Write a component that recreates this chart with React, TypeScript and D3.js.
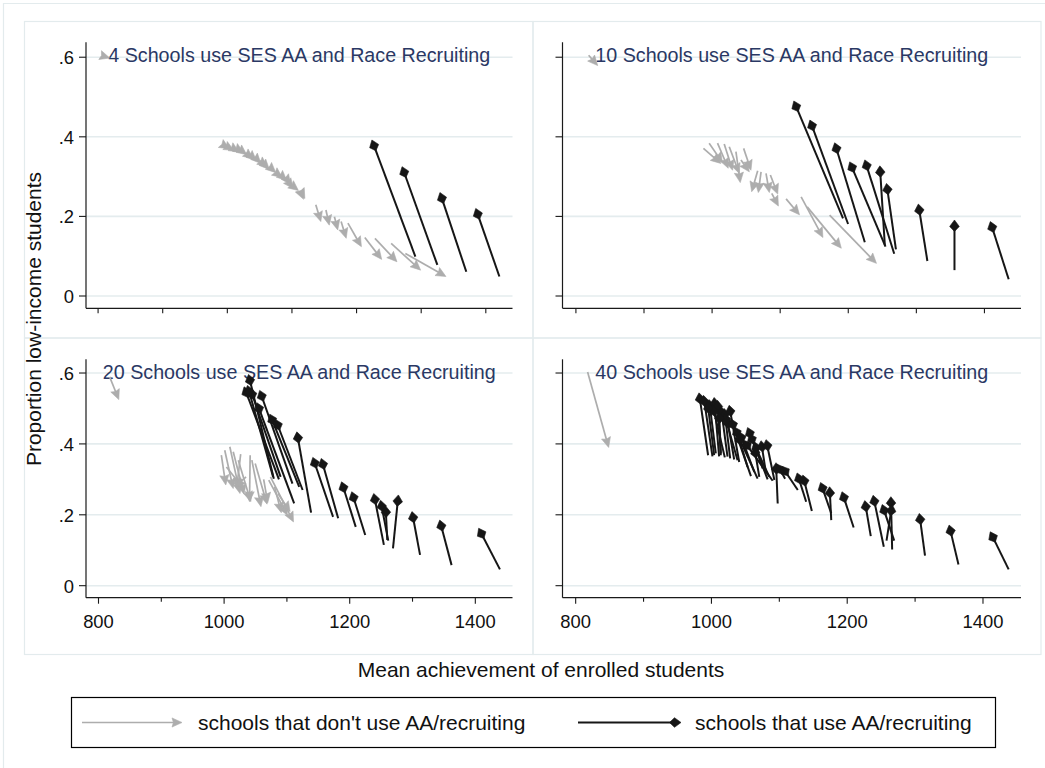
import React from 'react';
import * as d3 from 'd3';

// ---------- data ----------
const panelTitles = [
  '4 Schools use SES AA and Race Recruiting',
  '10 Schools use SES AA and Race Recruiting',
  '20 Schools use SES AA and Race Recruiting',
  '40 Schools use SES AA and Race Recruiting',
];
const xTickValues = [800, 900, 1000, 1100, 1200, 1300, 1400];
const xTickLabelValues = [800, 1000, 1200, 1400];
const yTickValues = [0, 0.2, 0.4, 0.6];
const yTickLabels = ['0', '.2', '.4', '.6'];
const xAxisTitle = 'Mean achievement of enrolled students';
const yAxisTitle = 'Proportion low-income students';
const legendLabels = ["schools that don't use AA/recruiting", 'schools that use AA/recruiting'];

// arrows: [x0, y0, x1, y1] — head at (x1, y1)
const p1Grey = [
  [808, 0.603, 818, 0.598],
  [995, 0.378, 1003, 0.37], [1000, 0.375, 1010, 0.366], [1008, 0.372, 1018, 0.362],
  [1015, 0.37, 1025, 0.36], [1022, 0.365, 1030, 0.355], [1028, 0.36, 1040, 0.345],
  [1035, 0.355, 1045, 0.34], [1042, 0.35, 1052, 0.333], [1050, 0.34, 1062, 0.325],
  [1055, 0.335, 1065, 0.318], [1065, 0.325, 1075, 0.31], [1075, 0.31, 1085, 0.298],
  [1082, 0.305, 1092, 0.29], [1090, 0.298, 1098, 0.28], [1095, 0.285, 1102, 0.27],
  [1100, 0.278, 1110, 0.265], [1112, 0.265, 1118, 0.243], [1115, 0.26, 1120, 0.245],
  [1136.9, 0.229, 1144.7, 0.187], [1152.6, 0.216, 1157.8, 0.178], [1165.7, 0.199, 1170.9, 0.166],
  [1176.1, 0.187, 1184, 0.145], [1186.6, 0.183, 1207.5, 0.124], [1212.7, 0.147, 1238.9, 0.092],
  [1228.4, 0.145, 1262.5, 0.086], [1253.5, 0.132, 1299.1, 0.065], [1275.5, 0.107, 1338.3, 0.049],
];
const p1Black = [
  [1291, 0.099, 1223.7, 0.392], [1325, 0.078, 1270.4, 0.325],
  [1369.8, 0.061, 1329, 0.26], [1421, 0.049, 1384.4, 0.22],
];
const p2Grey = [
  [818.7, 0.605, 832, 0.579],
  [987.3, 0.371, 1012.9, 0.333], [995.7, 0.384, 1015.3, 0.335], [1008, 0.384, 1023.7, 0.321],
  [1017.8, 0.382, 1030.1, 0.316], [1025.2, 0.375, 1039.9, 0.308], [1035, 0.363, 1041.4, 0.285],
  [1046.3, 0.371, 1057.1, 0.316], [1042.4, 0.342, 1054.7, 0.312], [1067, 0.315, 1058.1, 0.262],
  [1071.9, 0.312, 1067.9, 0.26], [1079.2, 0.308, 1084.1, 0.26], [1085.6, 0.304, 1096.4, 0.256],
  [1087.6, 0.258, 1097.4, 0.226], [1108.7, 0.244, 1128.4, 0.204], [1130.8, 0.249, 1162.8, 0.147],
  [1139.7, 0.224, 1189.8, 0.12], [1172.6, 0.203, 1241.4, 0.082],
];
const p2Black = [
  [1192.3, 0.195, 1120.0, 0.49], [1199.7, 0.181, 1143.6, 0.442], [1224.3, 0.135, 1180.0, 0.385],
  [1254.7, 0.124, 1202.1, 0.337], [1267.5, 0.106, 1224.3, 0.342], [1253.7, 0.128, 1246.4, 0.327],
  [1270.0, 0.117, 1256.2, 0.283], [1316.2, 0.088, 1302.9, 0.231], [1356.0, 0.065, 1356.0, 0.191],
  [1435.6, 0.042, 1408.6, 0.187],
];
const p3Grey = [
  [817.8, 0.589, 832.3, 0.525],
  [995.6, 0.368, 1002.7, 0.284], [1001, 0.382, 1014.5, 0.274], [1009.1, 0.392, 1025.3, 0.26],
  [1014.5, 0.378, 1031.8, 0.258], [1022.6, 0.354, 1042.5, 0.237], [1026.4, 0.371, 1019.9, 0.274],
  [1041.5, 0.368, 1040.4, 0.237], [1044.2, 0.354, 1058.7, 0.223], [1049.5, 0.345, 1068.4, 0.23],
  [1035, 0.307, 1017.2, 0.279], [1071.1, 0.298, 1100.8, 0.199], [1073.8, 0.307, 1110.5, 0.18],
  [1080.3, 0.279, 1091.1, 0.206], [1085.7, 0.26, 1105.1, 0.209], [1063, 0.3, 1069.5, 0.234],
  [1003.7, 0.335, 1030.7, 0.274],
];
const p3Black = [
  [1079.2, 0.302, 1038.8, 0.596], [1087.3, 0.3, 1031.8, 0.561], [1090, 0.307, 1041.5, 0.556],
  [1108.8, 0.288, 1056.6, 0.551], [1111.5, 0.232, 1052.2, 0.516], [1119.6, 0.279, 1072.7, 0.484],
  [1125, 0.27, 1081.9, 0.469], [1138.5, 0.206, 1115.8, 0.434], [1173.5, 0.194, 1141.2, 0.362],
  [1181.6, 0.19, 1154.7, 0.359], [1209.6, 0.166, 1187, 0.293], [1224.7, 0.143, 1203.2, 0.265],
  [1254.4, 0.115, 1238.2, 0.26], [1261.4, 0.127, 1249, 0.241], [1259.8, 0.129, 1257.1, 0.225],
  [1268.9, 0.105, 1277.5, 0.256], [1312, 0.087, 1299.1, 0.209], [1362.2, 0.058, 1343.3, 0.185],
  [1439.2, 0.046, 1405.3, 0.162], [1078.1, 0.307, 1037.1, 0.565],
];
const p4Grey = [
  [817.6, 0.603, 848.6, 0.39],
];
const p4Black = [
  [995.1, 0.368, 981.7, 0.544], [1001.5, 0.365, 988.2, 0.537], [1006.4, 0.373, 996.5, 0.525],
  [1011.3, 0.365, 1004, 0.531], [1013.8, 0.368, 1008.9, 0.523], [1019.7, 0.362, 1001.5, 0.509],
  [1023.7, 0.364, 1013.8, 0.506], [1027.6, 0.359, 1018.7, 0.5], [1040.9, 0.349, 1026.1, 0.509],
  [1033.5, 0.356, 1022.7, 0.476], [1058.2, 0.309, 1028.6, 0.471], [1068.0, 0.302, 1033.5, 0.448],
  [1063.1, 0.321, 1040.9, 0.434], [1082.8, 0.3, 1053.2, 0.446], [1085.3, 0.307, 1055.7, 0.429],
  [1090.2, 0.296, 1047.3, 0.41], [1075.4, 0.331, 1063.1, 0.406], [1080.4, 0.317, 1073.0, 0.409],
  [1092.7, 0.298, 1080.4, 0.412], [1053.2, 0.335, 1038.5, 0.429], [1038.5, 0.354, 1018.7, 0.486],
  [1013.8, 0.373, 1011.3, 0.49], [1004.0, 0.368, 994.1, 0.518], [1070.5, 0.307, 1063.1, 0.392],
  [1437.8, 0.046, 1410.7, 0.152], [1363.9, 0.06, 1350.1, 0.171], [1314.6, 0.085, 1306.2, 0.204],
  [1266.2, 0.102, 1264.3, 0.251], [1257.9, 0.127, 1266.2, 0.229], [1269.2, 0.127, 1251.5, 0.229],
  [1253.9, 0.11, 1238.1, 0.255], [1234.7, 0.14, 1225.8, 0.24], [1209.5, 0.164, 1192.3, 0.265],
  [1176.5, 0.185, 1174, 0.279], [1176.5, 0.204, 1160.7, 0.291], [1147.9, 0.211, 1134.6, 0.312],
  [1139.5, 0.237, 1126.2, 0.318], [1127.2, 0.27, 1103.5, 0.337], [1097.6, 0.232, 1095.1, 0.347],
  [1108.5, 0.302, 1096.6, 0.343],
];

const panelGrey = [p1Grey, p2Grey, p3Grey, p4Grey];
const panelBlack = [p1Black, p2Black, p3Black, p4Black];
const panelXDomains = [[781.3, 1441.3], [780.3, 1453.7], [780.1, 1459.2], [780.6, 1456]];
const panelYDomains = [[-0.0309, 0.6375], [-0.0309, 0.6375], [-0.0339, 0.6387], [-0.0339, 0.6387]];

// ---------- layout ----------
const W = 1045;
const H = 768;
const FONT = '"Liberation Sans", Arial, Helvetica, sans-serif';
const GREY = '#adadad';
const BLACK = '#161616';
const GRID = '#e4ecee';
const FRAME = '#e3ebed';
const TITLE_COLOR = '#2a3864';

const plotBoxes = [
  { left: 86, right: 512.5, top: 42.3, bottom: 308.3, yLabels: true, xLabels: false },
  { left: 562.5, right: 1021, top: 42.3, bottom: 308.3, yLabels: false, xLabels: false },
  { left: 86, right: 512.5, top: 359.3, bottom: 597.7, yLabels: true, xLabels: true },
  { left: 562.5, right: 1021, top: 359.3, bottom: 597.7, yLabels: false, xLabels: true },
];
const subFrames = [
  [24.5, 21.5, 533, 338],
  [533, 21.5, 1041, 338],
  [24.5, 338, 533, 654.5],
  [533, 338, 1041, 654.5],
];

function headPoints(px0: number, py0: number, px1: number, py1: number, kind: 'grey' | 'black') {
  const a = Math.atan2(py1 - py0, px1 - px0);
  const c = Math.cos(a);
  const s = Math.sin(a);
  const pt = (back: number, side: number) => [px1 - back * c - side * s, py1 - back * s + side * c];
  const pts = kind === 'grey'
    ? [[px1, py1], pt(10, 4.6), pt(8.6, 0), pt(10, -4.6)]
    : [[px1, py1], pt(6.5, 4.8), pt(11.5, 0), pt(6.5, -4.8)];
  return pts.map((p) => p.join(',')).join(' ');
}

function Arrow({ x0, y0, x1, y1, kind }: { x0: number; y0: number; x1: number; y1: number; kind: 'grey' | 'black' }) {
  const len = Math.hypot(x1 - x0, y1 - y0);
  if (len < 0.5) return null;
  const color = kind === 'grey' ? GREY : BLACK;
  const back = kind === 'grey' ? 6 : 7;
  const ex = x1 - ((x1 - x0) / len) * Math.min(back, len);
  const ey = y1 - ((y1 - y0) / len) * Math.min(back, len);
  return (
    <g>
      <line x1={x0} y1={y0} x2={ex} y2={ey} stroke={color} strokeWidth={kind === 'grey' ? 1.7 : 2} />
      <polygon points={headPoints(x0, y0, x1, y1, kind)} fill={color} stroke={color} strokeWidth={0.6} strokeLinejoin="miter" />
    </g>
  );
}

function Panel({ i }: { i: number }) {
  const b = plotBoxes[i];
  const x = d3.scaleLinear().domain(panelXDomains[i]).range([b.left, b.right]);
  const y = d3.scaleLinear().domain(panelYDomains[i]).range([b.bottom, b.top]);
  const cx = (b.left + b.right) / 2;
  return (
    <g>
      {yTickValues.map((t) => (
        <line key={'g' + t} x1={b.left} x2={b.right} y1={y(t)} y2={y(t)} stroke={GRID} strokeWidth={1.6} />
      ))}
      <line x1={b.left} x2={b.left} y1={b.top} y2={b.bottom} stroke="#1a1a1a" strokeWidth={1.2} />
      <line x1={b.left} x2={b.right} y1={b.bottom} y2={b.bottom} stroke="#1a1a1a" strokeWidth={1.2} />
      {yTickValues.map((t, k) => (
        <g key={'yt' + t}>
          <line x1={b.left - 7} x2={b.left} y1={y(t)} y2={y(t)} stroke="#1a1a1a" strokeWidth={1.1} />
          {b.yLabels && (
            <text x={b.left - 12} y={y(t) + 7} textAnchor="end" fontSize={18.4} fontFamily={FONT} fill="#111">
              {yTickLabels[k]}
            </text>
          )}
        </g>
      ))}
      {xTickValues.map((t) => {
        const major = xTickLabelValues.includes(t);
        const len = b.xLabels ? (major ? 6 : 4) : 5;
        return (
          <g key={'xt' + t}>
            <line x1={x(t)} x2={x(t)} y1={b.bottom} y2={b.bottom + len} stroke="#1a1a1a" strokeWidth={1.1} />
            {b.xLabels && major && (
              <text x={x(t)} y={b.bottom + 30} textAnchor="middle" fontSize={18.4} fontFamily={FONT} fill="#111">
                {t}
              </text>
            )}
          </g>
        );
      })}
      <text x={cx} y={b.top + 20} textAnchor="middle" fontSize={19.7} fontFamily={FONT} fill={TITLE_COLOR}>
        {panelTitles[i]}
      </text>
      {panelGrey[i].map((a, k) => (
        <Arrow key={'ga' + k} x0={x(a[0])} y0={y(a[1])} x1={x(a[2])} y1={y(a[3])} kind="grey" />
      ))}
      {panelBlack[i].map((a, k) => (
        <Arrow key={'ba' + k} x0={x(a[0])} y0={y(a[1])} x1={x(a[2])} y1={y(a[3])} kind="black" />
      ))}
    </g>
  );
}

export default function App() {
  return (
    <svg width={W} height={H} style={{ position: 'absolute', left: 0, top: 0, background: '#fff' }}>
      <rect x={0} y={0} width={W} height={H} fill="#fff" />
      <path d={`M3.5,${H} V3.5 H${W}`} fill="none" stroke={FRAME} strokeWidth={1.2} />
      {subFrames.map((f, k) => (
        <rect key={k} x={f[0]} y={f[1]} width={f[2] - f[0]} height={f[3] - f[1]} fill="none" stroke={FRAME} strokeWidth={1.2} />
      ))}
      {[0, 1, 2, 3].map((i) => (
        <Panel key={i} i={i} />
      ))}
      <text transform="translate(40.5,319) rotate(-90)" textAnchor="middle" fontSize={21} fontFamily={FONT} fill="#111">
        {yAxisTitle}
      </text>
      <text x={541} y={677} textAnchor="middle" fontSize={21} fontFamily={FONT} fill="#111">
        {xAxisTitle}
      </text>
      <rect x={71.5} y={697.5} width={924} height={50} fill="#fff" stroke="#000" strokeWidth={1.2} />
      <Arrow x0={82} y0={722.5} x1={182} y1={722.5} kind="grey" />
      <text x={198} y={729.5} fontSize={21} fontFamily={FONT} fill="#111">{legendLabels[0]}</text>
      <Arrow x0={578} y0={722.5} x1={681} y1={722.5} kind="black" />
      <text x={695} y={729.5} fontSize={21} fontFamily={FONT} fill="#111">{legendLabels[1]}</text>
    </svg>
  );
}
